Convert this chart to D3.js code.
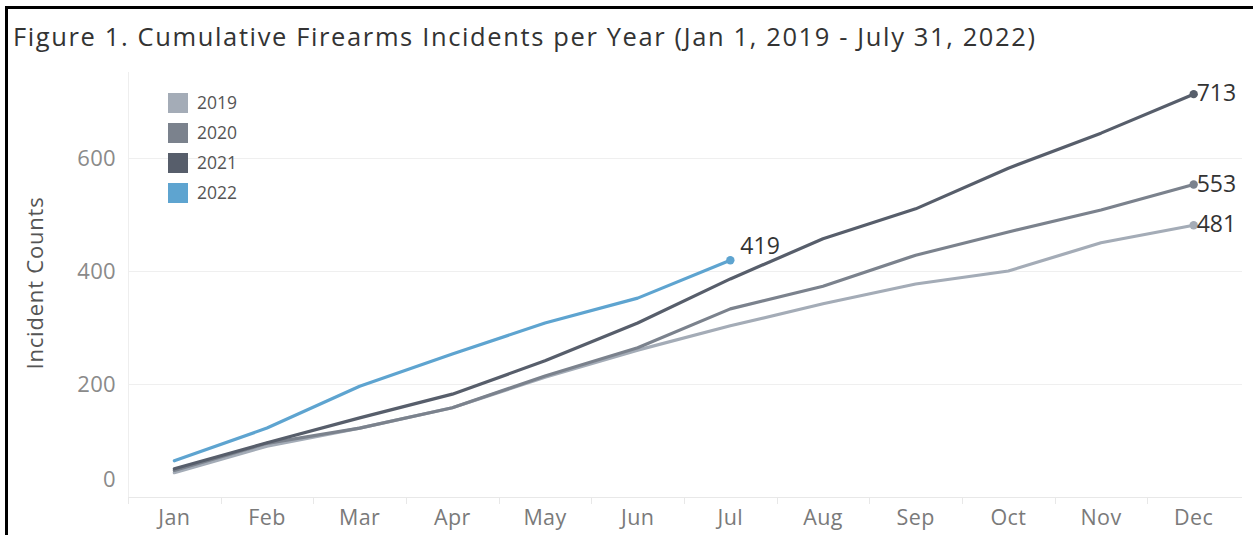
<!DOCTYPE html>
<html>
<head>
<meta charset="utf-8">
<script src="https://cdn.jsdelivr.net/npm/d3@7"></script>
<style>
  body { margin: 0; background: #fff; }
  text { font-family: "Open Sans", "Noto Sans", sans-serif; }
</style>
</head>
<body>
<div id="chart"></div>
<script>
const months = ["Jan", "Feb", "Mar", "Apr", "May", "Jun", "Jul", "Aug", "Sep", "Oct", "Nov", "Dec"];
const years = ["2019", "2020", "2021", "2022"];
const values2019 = [43, 90, 122, 158, 212, 260, 303, 342, 377, 400, 450, 481];
const values2020 = [47, 95, 122, 158, 214, 264, 333, 373, 428, 469, 508, 553];
const values2021 = [50, 96, 140, 182, 241, 308, 386, 457, 510, 582, 644, 713];
const values2022 = [64, 122, 196, 253, 308, 352, 419];
const yTicks = [0, 200, 400, 600];
const colors = ["#a4acb7", "#7b828d", "#575e6b", "#5ea4d0"];

const series = [values2019, values2020, values2021, values2022].map((v, i) => ({
  year: years[i], color: colors[i], values: v
}));

const W = 1253, H = 535;
const svg = d3.select("#chart").append("svg").attr("width", W).attr("height", H);

// frame
svg.append("line").attr("x1", 5).attr("x2", W).attr("y1", 7.5).attr("y2", 7.5)
  .attr("stroke", "#000").attr("stroke-width", 3);
svg.append("line").attr("x1", 6.5).attr("x2", 6.5).attr("y1", 6).attr("y2", H)
  .attr("stroke", "#000").attr("stroke-width", 3);

// title, spread to the width it takes in the original
const title = svg.append("text")
  .attr("x", 13).attr("y", 46)
  .attr("font-size", 25.5).attr("font-weight", 500).attr("fill", "#333")
  .text("Figure 1. Cumulative Firearms Incidents per Year (Jan 1, 2019 - July 31, 2022)");
const tw = title.node().getComputedTextLength();
const nChars = title.text().length;
title.attr("letter-spacing", Math.max(0, (1022 - tw) / (nChars - 1)));

const x = d3.scaleBand().domain(months).range([128, 1240]).padding(0);
const y = d3.scaleLinear().domain([0, 760]).range([497, 67.6]);
const cx = m => x(m) + x.bandwidth() / 2;

// gridlines
svg.append("g").selectAll("line").data(yTicks.filter(d => d > 0)).join("line")
  .attr("x1", 128).attr("x2", 1242)
  .attr("y1", d => Math.round(y(d)) + 0.5).attr("y2", d => Math.round(y(d)) + 0.5)
  .attr("stroke", "#efefef");

// y axis line
svg.append("line").attr("x1", 128.5).attr("x2", 128.5).attr("y1", 72).attr("y2", 497)
  .attr("stroke", "#eeeeee");

// x axis
const xAxis = svg.append("g")
  .attr("transform", "translate(0,497)")
  .call(d3.axisBottom(x).tickSize(0).tickPadding(13));
xAxis.select(".domain").attr("stroke", "#e8e8e8").attr("d", "M128,0.5H1242");
xAxis.selectAll("text").attr("font-size", 21.5).attr("fill", "#7a7a7a")
  .attr("font-family", "Open Sans, sans-serif").attr("letter-spacing", 0.4);
svg.append("g").selectAll("line").data(months).join("line")
  .attr("x1", d => Math.round(x(d)) + 0.5).attr("x2", d => Math.round(x(d)) + 0.5)
  .attr("y1", 497).attr("y2", 504)
  .attr("stroke", "#e8e8e8");

// y axis labels
const yAxis = svg.append("g")
  .attr("transform", "translate(128,0)")
  .call(d3.axisLeft(y).tickValues(yTicks).tickSize(0).tickPadding(12));
yAxis.select(".domain").remove();
yAxis.selectAll("text").attr("font-size", 22).attr("fill", "#8a8a8a")
  .attr("font-family", "Open Sans, sans-serif").attr("letter-spacing", 0.3);
yAxis.selectAll(".tick").filter(d => d === 0).select("text").attr("dy", "-0.5em");

svg.append("text")
  .attr("transform", "translate(43,283) rotate(-90)")
  .attr("text-anchor", "middle")
  .attr("font-size", 22).attr("fill", "#555")
  .attr("letter-spacing", 0.8)
  .text("Incident Counts");

// lines
const line = d3.line()
  .x((d, i) => cx(months[i]))
  .y(d => y(d));

svg.append("g").selectAll("path").data(series).join("path")
  .attr("d", d => line(d.values))
  .attr("fill", "none")
  .attr("stroke", d => d.color)
  .attr("stroke-width", 3.2)
  .attr("stroke-linejoin", "round")
  .attr("stroke-linecap", "round");

// end points and labels
const ends = svg.append("g").selectAll("g").data(series).join("g")
  .attr("transform", d => {
    const i = d.values.length - 1;
    return "translate(" + cx(months[i]) + "," + y(d.values[i]) + ")";
  });
ends.append("circle").attr("r", 4.2).attr("fill", d => d.color);
ends.append("text")
  .attr("x", d => d.year === "2022" ? 10 : 3)
  .attr("y", d => d.year === "2022" ? -14 : -1)
  .attr("dy", "0.35em")
  .attr("font-size", 23).attr("fill", "#333")
  .text(d => d.values[d.values.length - 1]);

// legend
const legend = svg.append("g").attr("transform", "translate(168,93)");
const item = legend.selectAll("g").data(series).join("g")
  .attr("transform", (d, i) => "translate(0," + i * 30 + ")");
item.append("rect").attr("width", 20).attr("height", 20).attr("fill", d => d.color);
item.append("text").attr("x", 29).attr("y", 10).attr("dy", "0.35em")
  .attr("font-size", 17.5).attr("fill", "#555")
  .text(d => d.year);
</script>
</body>
</html>
